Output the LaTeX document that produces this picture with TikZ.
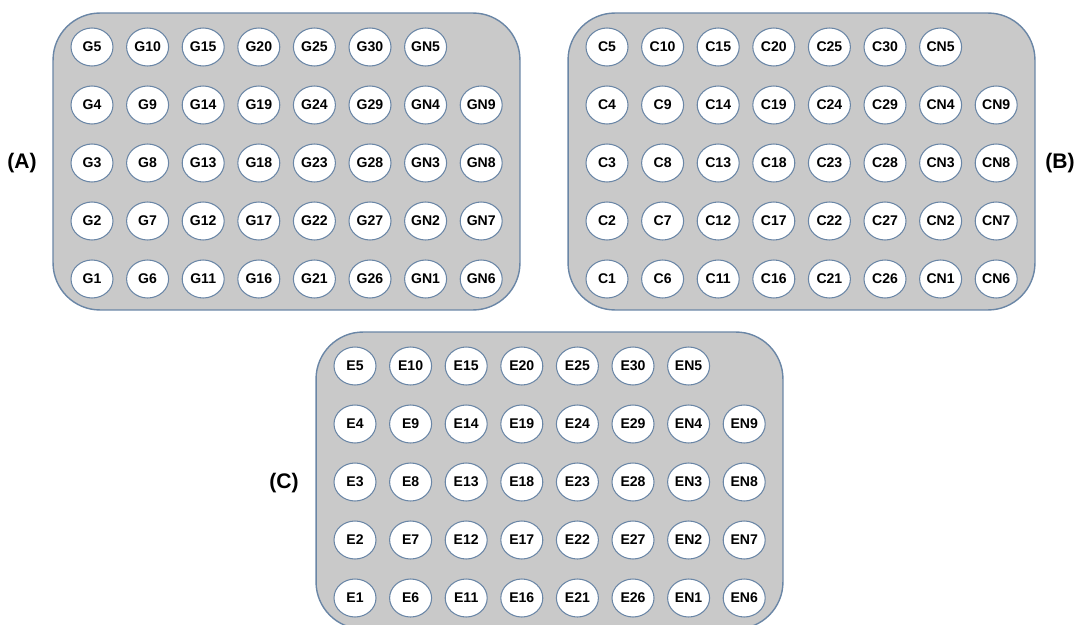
\documentclass[tikz,border=0pt]{standalone}
\usepackage{fontspec}
\setsansfont{Liberation Sans}
\usepackage{tikz}
\usetikzlibrary{positioning,shapes}
\definecolor{plateline}{HTML}{6A86A6}
\definecolor{platefill}{HTML}{C9C9C9}
\tikzstyle{plate} = [draw=plateline, fill=platefill, line width=0.8pt, rounded corners=0.94cm, minimum width=9.34cm, minimum height=5.94cm]
\tikzstyle{well} = [ellipse, draw=plateline, fill=white, line width=0.6pt, minimum width=0.84cm, minimum height=0.76cm, inner sep=0pt, font=\sffamily\bfseries\fontsize{8}{9}\selectfont]
\tikzstyle{tag} = [font=\sffamily\bfseries\fontsize{12}{14}\selectfont]

\begin{document}
\begin{tikzpicture}[x=0.02cm, y=-0.02cm]
	\useasboundingbox (0,0) rectangle (1078,625);
	\node (plateA) [plate] at (286.5,161.5) {};
	\node (plateB) [plate] at (801.5,161.5) {};
	\node (plateC) [plate] at (549.5,480.5) {};
	\node (tagA) [tag] at (22,163) {(A)};
	\node (tagB) [tag] at (1060,163) {(B)};
	\node (tagC) [tag] at (284,483) {(C)};
	% wells of each plate
	\foreach \p/\dx/\dy in {G/0/0, C/515/0, E/263/319} {
		\foreach \c in {0,...,5} {
			\foreach \r in {0,...,4} {
				\pgfmathtruncatemacro\n{5*\c+5-\r}
				\node (\p\n) [well] at (92+\dx+55.6*\c, 47+\dy+58*\r) {\p\n};
			}
		}
		\foreach \r in {0,...,4} {
			\pgfmathtruncatemacro\n{5-\r}
			\node (\p N\n) [well] at (92+\dx+55.6*6, 47+\dy+58*\r) {\p N\n};
		}
		\foreach \r in {1,...,4} {
			\pgfmathtruncatemacro\n{10-\r}
			\node (\p N\n) [well] at (92+\dx+55.6*7, 47+\dy+58*\r) {\p N\n};
		}
	}
\end{tikzpicture}
\end{document}
